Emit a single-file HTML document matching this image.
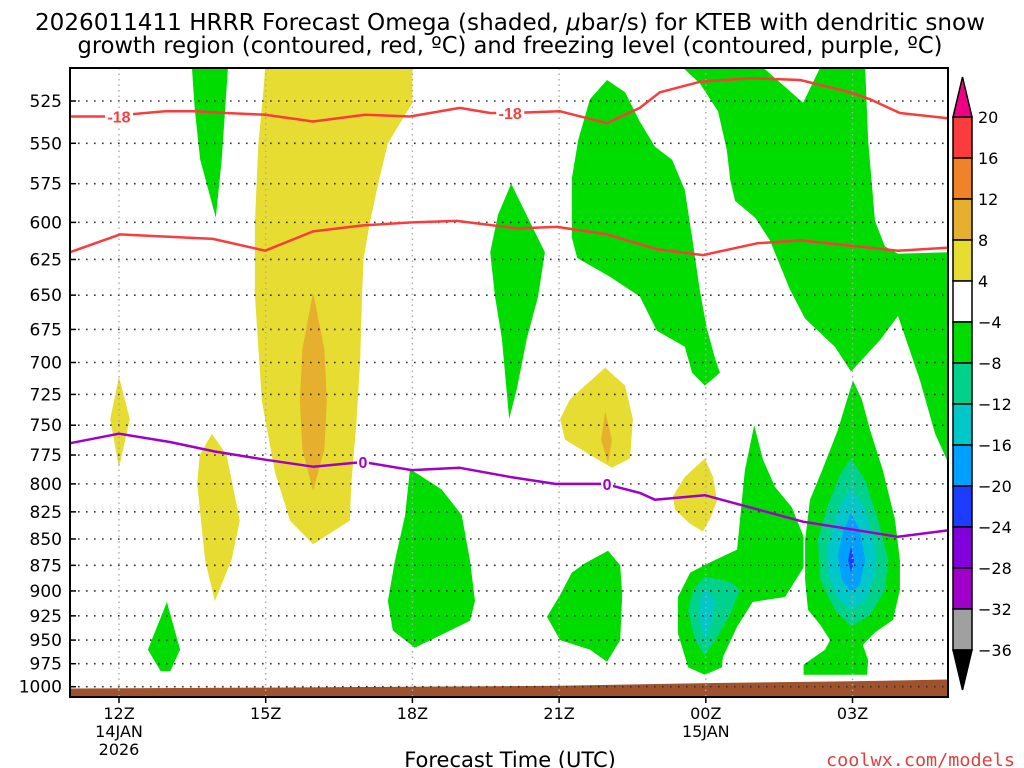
<!DOCTYPE html>
<html><head><meta charset="utf-8"><style>
html,body{margin:0;padding:0;background:#fff;}
svg{display:block;font-family:"Liberation Sans","DejaVu Sans",sans-serif;}
</style></head><body>
<svg id="chart" width="1024" height="768" viewBox="0 0 1024 768" xmlns="http://www.w3.org/2000/svg">
<text x="510" y="30" font-size="23" text-anchor="middle" textLength="950" lengthAdjust="spacingAndGlyphs" font-family="DejaVu Sans, sans-serif">2026011411 HRRR Forecast Omega (shaded, <tspan font-style="italic">μ</tspan>bar/s) for KTEB with dendritic snow</text>
<text x="510" y="53" font-size="23" text-anchor="middle" textLength="865" lengthAdjust="spacingAndGlyphs" font-family="DejaVu Sans, sans-serif">growth region (contoured, red, ºC) and freezing level (contoured, purple, ºC)</text>
<g id="shades"></g>
<g id="grid"></g>
<g id="lines"></g>
<g id="axes"></g>
<g id="cbar"></g>
<text x="510" y="767" font-size="21" text-anchor="middle" font-family="DejaVu Sans, sans-serif">Forecast Time (UTC)</text>
<text x="1015" y="766" font-size="18" text-anchor="end" textLength="189" lengthAdjust="spacingAndGlyphs" fill="#e04040" font-family="DejaVu Sans Mono, monospace">coolwx.com/models</text>
</svg>
<script>
// ---- data ----
const pressureTicks = [525,550,575,600,625,650,675,700,725,750,775,800,825,850,875,900,925,950,975,1000];
const timeTickHours = [0,3,6,9,12,15];
const timeTickLabels = [["12Z","14JAN","2026"],["15Z"],["18Z"],["21Z"],["00Z","15JAN"],["03Z"]];
const cbarLevels = [20,16,12,8,4,-4,-8,-12,-16,-20,-24,-28,-32,-36];
const cbarColors = ["#fa3c3c","#f08228","#e6af2d","#e6dc32","#ffffff","#00dc00","#00d28c","#00c8c8","#00a0ff","#1e3cff","#8200dc","#a000c8","#a0a0a0"];
// -18C contour (hours after 12Z, hPa)
const minus18H = [-1,-0.29,0.94,1.55,2.17,2.99,3.97,5.03,5.95,6.97,7.59,8.0,9.02,9.98,10.65,11.06,11.88,12.9,13.93,14.95,15.36,15.97,16.95];
const minus18P = [534,534,531,531,532,533,537,533,534,529,532,532,531,538,529,520,514,512,513,520,524,532,535];
// -12C contour
const minus12H = [-1,0.02,1.92,2.99,3.97,4.99,5.99,6.91,8.14,8.96,9.98,11.0,11.94,13.05,13.93,15.93,16.93];
const minus12P = [620,608,611,619,606,602,600,599,604,603,608,618,622,614,612,619,617];
// 0C freezing level
const zeroH = [-1,0,1.04,1.96,2.99,3.97,4.99,5.99,6.97,8.0,8.92,9.94,10.65,10.96,11.98,13.99,15.93,16.95];
const zeroP = [765,757,764,772,779,785,781,788,786,794,800,800,808,814,810,834,848,842];
// terrain surface pressure
const terrainH = [-1,3,9,12,15,17];
const terrainP = [1002,1001,999,996,994,992];
// shaded omega regions: [hour, hPa]
const shadeYellowColumn = [[2.99,506],[6.0,506],[6.0,526],[5.5,550],[5.3,575],[5.13,600],[5.0,625],[4.97,650],[4.95,675],[4.93,700],[4.85,750],[4.75,800],[4.72,833],[3.97,855],[3.5,833],[3.19,790],[2.92,730],[2.78,650],[2.78,600],[2.85,550],[2.95,520]];
const shadeOrangeColumn = [[3.97,648],[4.2,690],[4.25,730],[4.2,770],[3.97,806],[3.75,770],[3.7,730],[3.75,690]];
const shadeGreenTopLeft = [[1.49,506],[2.23,506],[2.1,560],[1.98,597],[1.66,560],[1.55,530]];
const shadeYellow12Z = [[0,711],[0.22,745],[0,786],[-0.18,745]];
const shadeYellow14Z = [[1.9,757],[2.2,775],[2.47,833],[2.3,870],[1.96,910],[1.76,870],[1.6,800],[1.65,775]];
const shadeGreen13Z = [[0.98,911],[1.25,960],[1.05,983],[0.85,983],[0.59,960]];
const shadeGreen18Z = [[5.95,787],[6.6,805],[7.01,828],[7.18,871],[7.28,910],[7.18,930],[6.05,958],[5.6,940],[5.5,910],[5.64,871],[5.85,828]];
const shadeGreen20Z = [[8.02,575],[8.71,620],[8.57,651],[8.34,682],[8.14,720],[7.98,745],[7.83,682],[7.69,651],[7.59,620],[7.75,595]];
const shadeGreen22Z = [[9.98,513],[10.35,520],[10.65,537],[10.96,552],[11.31,560],[11.57,579],[11.72,610],[11.88,647],[12.02,674],[12.19,697],[12.29,708],[11.98,718],[11.72,708],[11.57,688],[11.0,676],[10.65,651],[10.04,637],[9.37,624],[9.26,610],[9.26,572],[9.39,548],[9.63,524]];
const shadeGreenBand = [[11.53,506],[13.17,506],[13.99,526],[14.34,506],[15.26,506],[15.32,548],[15.46,599],[15.66,616],[15.93,621],[16.95,620],[16.95,781],[16.69,757],[16.38,714],[15.93,665],[15.56,683],[14.97,707],[14.64,688],[14.03,667],[13.72,646],[13.31,612],[13.01,597],[12.6,586],[12.5,573],[12.43,554],[12.25,531],[11.88,515]];
const shadeYellow22Z = [[9.94,704],[10.35,718],[10.51,745],[10.45,778],[10.08,786],[9.59,774],[9.12,762],[9.02,745],[9.22,729],[9.53,718]];
const shadeOrange22Z = [[9.94,739],[10.08,762],[10.0,782],[9.86,762]];
const shadeYellow00Z = [[11.98,778],[12.15,794],[12.23,815],[12.09,831],[11.94,843],[11.68,836],[11.37,823],[11.33,811],[11.57,794]];
const shadeGreen21Z = [[10.0,861],[10.25,875],[10.29,904],[10.25,950],[9.98,973],[9.63,960],[9.02,950],[8.75,926],[9.02,904],[9.26,882],[9.53,873]];
const shadeGreen00Z = [[12.99,750],[13.17,779],[13.42,803],[13.76,821],[14.0,848],[14.0,877],[13.62,906],[12.96,911],[12.64,936],[12.35,968],[12.33,979],[11.98,987],[11.64,979],[11.43,943],[11.43,906],[11.68,882],[12.09,872],[12.64,860],[12.7,832],[12.8,788]];
const shadeTeal00Z = [[11.98,886],[12.49,891],[12.7,899],[12.49,924],[12.19,950],[11.98,966],[11.78,950],[11.64,919],[11.74,899]];
const shadeCyan00Z = [[11.98,899],[12.19,909],[12.13,929],[11.98,950],[11.88,929],[11.88,909]];
const shadeGreen03Z = [[15.01,714],[15.19,729],[15.36,754],[15.62,788],[15.87,832],[15.97,870],[15.97,899],[15.83,929],[15.46,942],[15.21,955],[15.32,971],[15.3,987],[14.0,987],[14.0,976],[14.44,960],[14.54,950],[14.34,934],[14.09,919],[14.03,889],[14.03,851],[14.13,814],[14.38,788],[14.7,754],[14.89,729]];
const shadeTeal03Z = [[14.97,778],[15.26,797],[15.52,832],[15.73,870],[15.66,899],[15.36,924],[14.97,936],[14.64,919],[14.34,889],[14.29,851],[14.5,819],[14.74,792]];
const shadeCyan03Z = [[14.97,803],[15.26,823],[15.46,856],[15.46,884],[15.26,909],[14.99,919],[14.7,907],[14.5,884],[14.5,856],[14.7,823]];
const shadeBlue03Z = [[14.97,826],[15.15,842],[15.26,870],[15.15,894],[14.97,901],[14.78,889],[14.7,865],[14.81,842]];
const shadeDarkBlue03Z = [[14.97,857],[15.03,870],[14.97,882],[14.91,870]];

// ---- scales ----
const NS='http://www.w3.org/2000/svg';
const X0=70,X1=948,Y0=68,Y1=697;
function xs(h){return 119+h*48.9;}
function ys(p){return 101+909*Math.log(p/525);}
function mk(tag,attrs,parent){const e=document.createElementNS(NS,tag);for(const k in attrs)e.setAttribute(k,attrs[k]);parent.appendChild(e);return e;}
const shades=document.getElementById('shades'),grid=document.getElementById('grid'),lines=document.getElementById('lines'),axes=document.getElementById('axes'),cbar=document.getElementById('cbar');

const defs=mk('defs',{},document.getElementById('chart'));
const cp=mk('clipPath',{id:'plotclip'},defs);
mk('rect',{x:X0,y:Y0,width:X1-X0,height:Y1-Y0},cp);
shades.setAttribute('clip-path','url(#plotclip)');
lines.setAttribute('clip-path','url(#plotclip)');

function poly(pts,color,name){
  const e=mk('polygon',{points:pts.map(q=>xs(q[0]).toFixed(1)+','+ys(q[1]).toFixed(1)).join(' '),fill:color},shades);
  
  
}
const G='#00dc00',Y='#e6dc32',O='#e6af2d',T='#00d28c',C='#00c8c8',B='#00a0ff',DB='#1e3cff';
poly(shadeYellowColumn,Y,'shade-yellow-column');
poly(shadeOrangeColumn,O,'shade-orange-column');
poly(shadeGreenTopLeft,G,'shade-green-top-left');
poly(shadeYellow12Z,Y,'shade-yellow-12z');
poly(shadeYellow14Z,Y,'shade-yellow-14z');
poly(shadeGreen13Z,G,'shade-green-13z');
poly(shadeGreen18Z,G,'shade-green-18z');
poly(shadeGreen20Z,G,'shade-green-20z');
poly(shadeGreen22Z,G,'shade-green-22z');
poly(shadeGreenBand,G,'shade-green-band');
poly(shadeYellow22Z,Y,'shade-yellow-22z');
poly(shadeOrange22Z,O,'shade-orange-22z');
poly(shadeYellow00Z,Y,'shade-yellow-00z');
poly(shadeGreen21Z,G,'shade-green-21z');
poly(shadeGreen00Z,G,'shade-green-00z');
poly(shadeTeal00Z,T,'shade-teal-00z');
poly(shadeCyan00Z,C,'shade-cyan-00z');
poly(shadeGreen03Z,G,'shade-green-03z');
poly(shadeTeal03Z,T,'shade-teal-03z');
poly(shadeCyan03Z,C,'shade-cyan-03z');
poly(shadeBlue03Z,B,'shade-blue-03z');
poly(shadeDarkBlue03Z,DB,'shade-darkblue-03z');

{
  let d='M'+X0+','+(Y1+2);
  terrainH.forEach((h,i)=>{d+=' L'+xs(h).toFixed(1)+','+ys(terrainP[i]).toFixed(1);});
  d+=' L'+X1+','+(Y1+2)+' Z';
  const t=mk('path',{d:d,fill:'#a0522d'},shades);
  
  
}

pressureTicks.forEach(p=>{
  const l=mk('line',{x1:X0,x2:X1,y1:ys(p),y2:ys(p),stroke:'#333','stroke-width':1.6,'stroke-dasharray':'1.6 6.4'},grid);
  
  
});
timeTickHours.forEach(h=>{
  const l=mk('line',{x1:xs(h),x2:xs(h),y1:Y0,y2:Y1,stroke:'#aaa','stroke-width':1.4,'stroke-dasharray':'1.5 4'},grid);
  
  
});

function line(H,P,color,name){
  const e=mk('polyline',{points:H.map((h,i)=>xs(h).toFixed(1)+','+ys(P[i]).toFixed(1)).join(' '),fill:'none',stroke:color,'stroke-width':2.5,'stroke-linejoin':'round'},lines);
  
  
}
line(minus18H,minus18P,'#fa3c3c','contour-minus18');
line(minus12H,minus12P,'#fa3c3c','contour-minus12');
line(zeroH,zeroP,'#a000c8','contour-freezing-level');
function clabel(h,p,txt,color,name){
  const r=mk('rect',{x:xs(h)-14,y:ys(p)-8,width:28,height:16,fill:'#fff'},lines);
  
  
  const t=mk('text',{x:xs(h),y:ys(p)+6,'font-size':16,'font-weight':'bold','text-anchor':'middle',fill:color},lines);
  t.textContent=txt;
  
  
}
clabel(0,534,'-18','#fa3c3c','label-minus18-a');
clabel(8.0,532,'-18','#fa3c3c','label-minus18-b');
function zlabel(h,p,name){
  const r=mk('rect',{x:xs(h)-6,y:ys(p)-8,width:12,height:16,fill:'#fff'},lines);
  
  
  const t=mk('text',{x:xs(h),y:ys(p)+6,'font-size':16,'font-weight':'bold','text-anchor':'middle',fill:'#a000c8'},lines);
  t.textContent='0';
  
  
}
zlabel(4.99,781,'label-zero-a');
zlabel(9.98,800,'label-zero-b');

{
  const f=mk('rect',{x:X0,y:Y0,width:X1-X0,height:Y1-Y0,fill:'none',stroke:'#000','stroke-width':2},axes);
  
  
}
pressureTicks.forEach(p=>{
  const t=mk('text',{x:62,y:ys(p)+6,'font-size':17,'text-anchor':'end','font-family':'DejaVu Sans, sans-serif'},axes);
  t.textContent=p;
  
  
  const k=mk('line',{x1:X0,x2:X0+6,y1:ys(p),y2:ys(p),stroke:'#000','stroke-width':1.5},axes);
  
  
});
timeTickHours.forEach((h,i)=>{
  const k=mk('line',{x1:xs(h),x2:xs(h),y1:Y1,y2:Y1+6,stroke:'#000','stroke-width':1.5},axes);
  
  
  timeTickLabels[i].forEach((s,j)=>{
    const t=mk('text',{x:xs(h),y:719+j*18,'font-size':16,'text-anchor':'middle','font-family':'DejaVu Sans, sans-serif'},axes);
    t.textContent=s;
    
    
  });
});

{
  const bx=953,bw=19,top=117,seg=41;
  const tri=mk('polygon',{points:bx+','+top+' '+(bx+bw)+','+top+' '+(bx+bw/2)+','+(top-40),fill:'#f00082',stroke:'#000','stroke-width':1.5},cbar);
  
  
  cbarColors.forEach((c,i)=>{
    const r=mk('rect',{x:bx,y:top+i*seg,width:bw,height:seg,fill:c,stroke:'#000','stroke-width':1.5},cbar);
    
    
  });
  const bot=top+cbarColors.length*seg;
  const tri2=mk('polygon',{points:bx+','+bot+' '+(bx+bw)+','+bot+' '+(bx+bw/2)+','+(bot+40),fill:'#000',stroke:'#000','stroke-width':1.5},cbar);
  
  
  cbarLevels.forEach((v,i)=>{
    const t=mk('text',{x:978,y:top+i*seg+6,'font-size':16,'font-family':'DejaVu Sans, sans-serif'},cbar);
    t.textContent=(v<0?'\u2212'+(-v):String(v));
    
    
  });
}
</script>
</body></html>
